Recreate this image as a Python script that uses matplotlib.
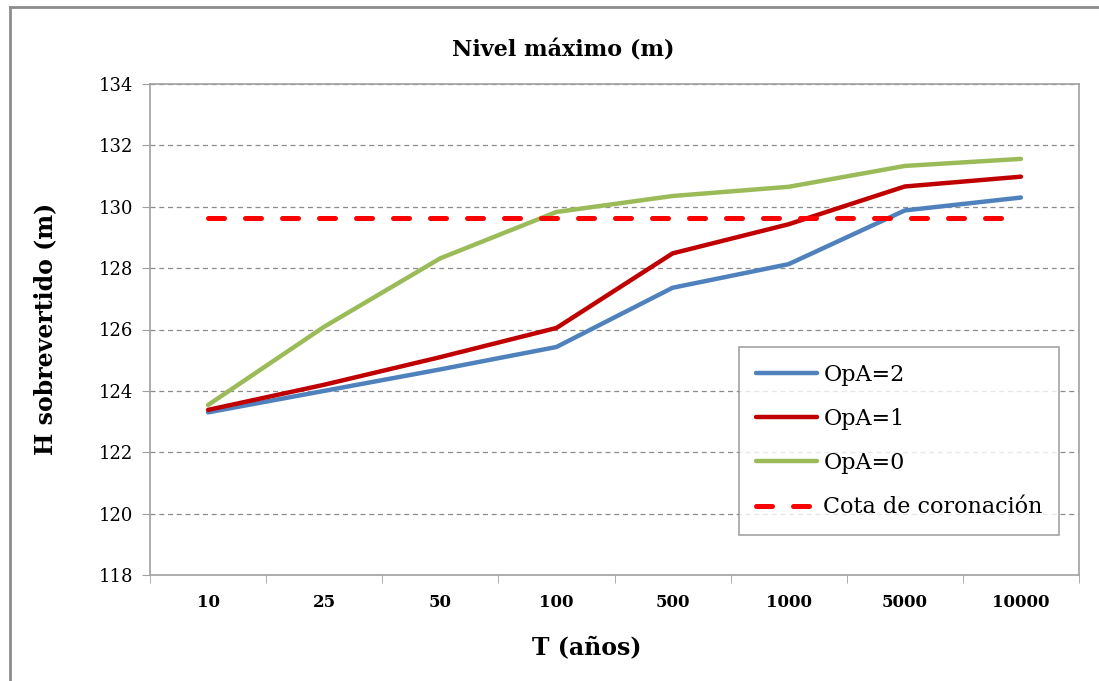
import matplotlib
matplotlib.use('Agg')
import matplotlib.pyplot as plt
from matplotlib.lines import Line2D
import numpy as np

periods = ['10', '25', '50', '100', '500', '1000', '5000', '10000']
opa2 = [123.3, 124.0, 124.7, 125.43, 127.36, 128.13, 129.88, 130.3]
opa1 = [123.38, 124.2, 125.1, 126.05, 128.48, 129.43, 130.66, 130.98]
opa0 = [123.54, 126.09, 128.32, 129.83, 130.35, 130.65, 131.33, 131.56]
cota = 129.64

plt.rcParams['font.family'] = ['DejaVu Serif']

fig = plt.figure(figsize=(10.99, 6.81), dpi=100)
ax = fig.add_axes([150 / 1099, 1 - 575 / 681, 929 / 1099, 491 / 681])

x = np.arange(len(periods))
ax.plot(x, opa2, color='#4F81BD', lw=3.2, label='OpA=2', solid_capstyle='round')
ax.plot(x, opa1, color='#C00000', lw=3.2, label='OpA=1', solid_capstyle='round')
ax.plot(x, opa0, color='#9BBB59', lw=3.2, label='OpA=0', solid_capstyle='round')
ax.plot(x, [cota] * len(x), color='#FF0000', lw=3.6, ls=(0, (3.2, 4.2)),
        dash_capstyle='round', label='Cota de coronación')

ax.set_xlim(-0.5, len(periods) - 0.5)
ax.set_ylim(118, 134)
ax.set_yticks(np.arange(118, 135, 2))
ax.set_xticks(x)
ax.set_xticklabels(periods, fontsize=12, fontweight='bold')
ax.set_xticks(np.arange(-0.5, len(periods), 1), minor=True)
ax.tick_params(axis='x', which='major', length=0, pad=14)
ax.tick_params(axis='x', which='minor', length=6, color='#A0A0A0', direction='out')
ax.tick_params(axis='y', length=6, color='#A0A0A0', direction='out', labelsize=13, pad=6)

ax.yaxis.grid(True, color='#8C8C8C', ls=(0, (4, 3)), lw=0.9)
ax.set_axisbelow(True)
for s in ax.spines.values():
    s.set_color('#A0A0A0')
    s.set_linewidth(1.2)

# titles placed like the Excel chart (not centred on the plot area)
fig.text(563 / 1099, 1 - 50 / 681, 'Nivel máximo (m)', fontsize=16, fontweight='bold',
         ha='center', va='center')
fig.text(587 / 1099, 1 - 647 / 681, 'T (años)', fontsize=17, fontweight='bold',
         ha='center', va='center')
fig.text(45 / 1099, 1 - 329 / 681, 'H sobrevertido (m)', fontsize=17, fontweight='bold',
         ha='center', va='center', rotation=90)

leg = ax.legend(loc='upper left', bbox_to_anchor=((739 - 150) / 929, (575 - 347) / 491),
                borderaxespad=0, fontsize=16, frameon=True, fancybox=False,
                handlelength=2.75, labelspacing=1.0, borderpad=0.75, handletextpad=0.3)
leg.get_frame().set_edgecolor('#8C8C8C')
leg.get_frame().set_linewidth(1.2)

# outer chart frame (only left and top visible in the crop)
fig.add_artist(Line2D([9.5 / 1099, 9.5 / 1099], [0, 1 - 7 / 681], transform=fig.transFigure,
                      color='#8C8C8C', lw=2))
fig.add_artist(Line2D([9.5 / 1099, 1], [1 - 7 / 681, 1 - 7 / 681], transform=fig.transFigure,
                      color='#8C8C8C', lw=2))

fig.savefig('out.png', dpi=100)
